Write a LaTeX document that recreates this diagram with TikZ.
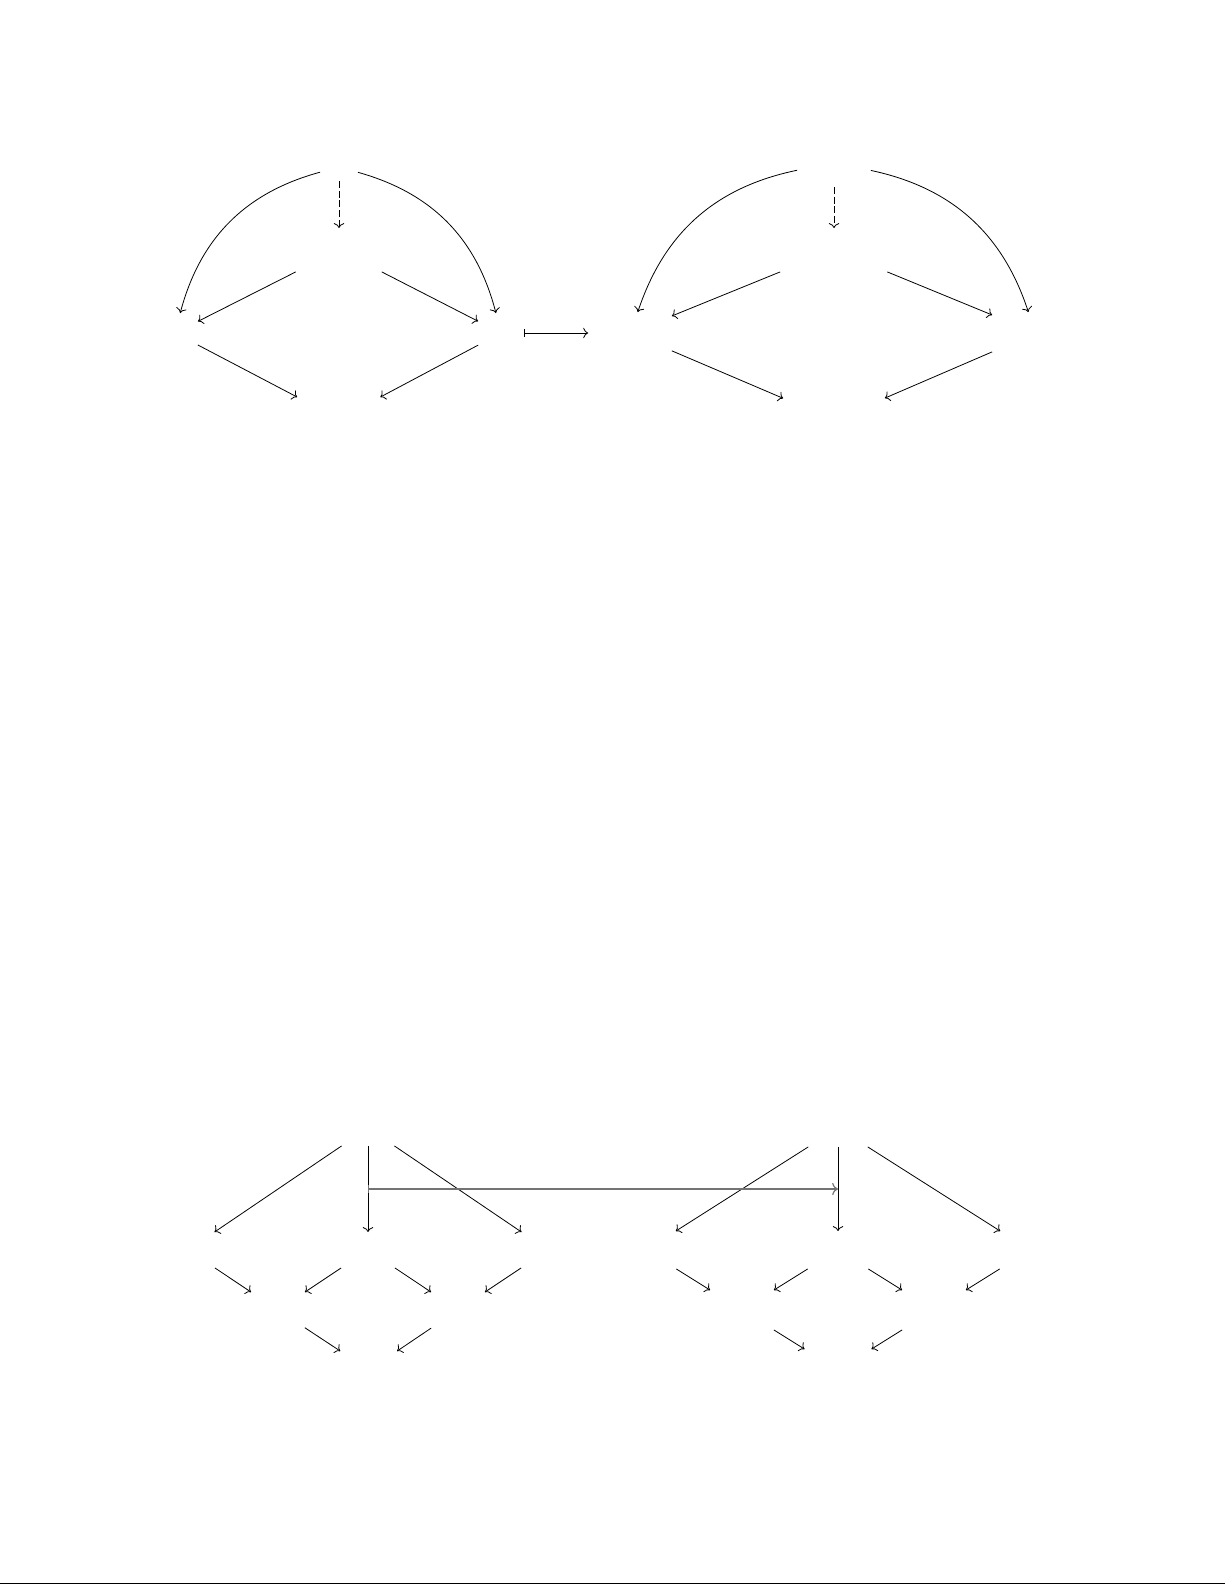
\documentclass[tikz,border=0pt]{standalone}
\usetikzlibrary{calc, arrows.meta}

\begin{document}
\begin{tikzpicture}[x=0.50187pt, y=-0.50187pt,
    slot/.style 2 args={inner sep=0pt, outer sep=0pt, minimum width=#1pt, minimum height=#2pt},
    map/.style={-{Computer Modern Rightarrow}},
    dmap/.style={map, dash pattern=on 3.5pt off 1.4pt},
    mapsto/.style={{Bar[width=4pt]}-{Computer Modern Rightarrow}}]

\useasboundingbox (0,0) rectangle (1225,1585);

% First square, left
\node[slot={19}{14}] (t1) at (339,167) {};
\node[slot={45}{22}] (m1) at (339,250) {};
\node[slot={23}{20}] (l1) at (175,333) {};
\node[slot={23}{20}] (r1) at (501,333) {};
\node[slot={42}{22}] (b1) at (339,419) {};

% First square, right
\node[slot={37}{23}] (t2) at (834,164) {};
\node[slot={56}{22}] (m2) at (834,250) {};
\node[slot={42}{21}] (l2) at (630,333) {};
\node[slot={44}{21}] (r2) at (1036,333) {};
\node[slot={51}{22}] (b2) at (834,420) {};

% Arrows of both squares
\foreach \n in {1,2}
{
    \draw[map] (t\n) to[bend right=30] (l\n);
    \draw[map] (t\n) to[bend left=30] (r\n);
    \draw[dmap] (t\n) -- (m\n);
    \draw[map] (m\n) -- (l\n);
    \draw[map] (m\n) -- (r\n);
    \draw[map] (l\n) -- (b\n);
    \draw[map] (r\n) -- (b\n);
}

% Map between the squares
\draw[mapsto] (r1) -- (l2);

% Second tree, left
\node[slot={30}{18}] (p1) at (368,1128) {};
\node[slot={30}{18}] (q1) at (188,1250) {};
\node[slot={30}{18}] (q2) at (368,1250) {};
\node[slot={30}{18}] (q3) at (548,1250) {};
\node[slot={27}{19}] (s1) at (278,1310) {};
\node[slot={27}{19}] (s2) at (458,1310) {};
\node[slot={30}{19}] (u1) at (369,1370) {};

% Second tree, right
\node[slot={34}{19}] (p2) at (838,1128) {};
\node[slot={34}{19}] (q4) at (646,1250) {};
\node[slot={34}{19}] (q5) at (838,1250) {};
\node[slot={34}{19}] (q6) at (1030,1250) {};
\node[slot={33}{20}] (s3) at (742,1310) {};
\node[slot={33}{20}] (s4) at (934,1310) {};
\node[slot={34}{21}] (u2) at (838,1370) {};

% Arrows of both trees
\draw[map] (p1) -- (q1);
\draw[map] (p1) -- coordinate (a1) (q2);
\draw[map] (p1) -- (q3);
\draw[map] (p2) -- (q4);
\draw[map] (p2) -- coordinate (a2) (q5);
\draw[map] (p2) -- (q6);
\foreach \a/\b in {q1/s1, q2/s1, q2/s2, q3/s2, s1/u1, s2/u1, q4/s3, q5/s3, q5/s4, q6/s4, s3/u2, s4/u2}
{
    \draw[map] (\a) -- (\b);
}

% Map between the middle arrows
\draw[mapsto, black!55, line width=0.6pt] (a1) -- (a2);

% Rule at the foot of the page
\draw[line width=0.5pt] (0,1583.5) -- (1225,1583.5);

\end{tikzpicture}
\end{document}
